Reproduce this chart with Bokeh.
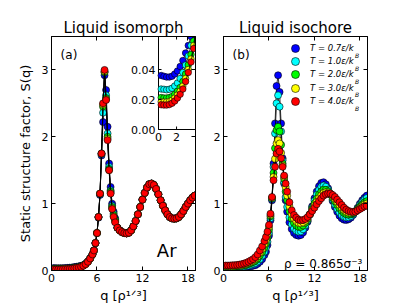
from bokeh.plotting import figure
from bokeh.layouts import row
from bokeh.models import Range1d, LinearAxis, FixedTicker, Label, Legend, LegendItem
from bokeh.embed import file_html
from bokeh.resources import INLINE
from bokeh.core.properties import value

FONT = "DejaVu Sans"

temps = ["0.7", "1.0", "2.0", "3.0", "4.0"]
colors = ["#0000ff", "#00ffff", "#00ff00", "#ffff00", "#ff0000"]

q_low = [0.3, 0.6, 0.9, 1.2, 1.5, 1.8, 2.1, 2.4, 2.7, 3.0, 3.3, 3.6, 3.9, 4.2, 4.5, 4.8, 5.1, 5.4]
q_peak = [5.6, 5.8, 6.0, 6.2, 6.4, 6.6, 6.8, 7.0, 7.2, 7.4, 7.6, 7.8, 8.0, 8.2, 8.4]
q_tail = [8.7, 9.0, 9.3, 9.6, 9.9, 10.2, 10.5, 10.8, 11.1, 11.4, 11.7, 12.0, 12.3, 12.6, 12.9,
          13.2, 13.5, 13.8, 14.1, 14.4, 14.7, 15.0, 15.3, 15.6, 15.9, 16.2, 16.5, 16.8, 17.1,
          17.4, 17.7, 18.0, 18.3, 18.6, 18.9]

# ---- (a) liquid isomorph ----
iso_low_07 = [0.036, 0.0355, 0.035, 0.035, 0.0355, 0.037, 0.039, 0.042, 0.046, 0.051, 0.056, 0.062, 0.07, 0.08, 0.1, 0.135, 0.18, 0.24]
iso_low_10 = [0.027, 0.0268, 0.0265, 0.0268, 0.0275, 0.029, 0.031, 0.034, 0.038, 0.043, 0.049, 0.056, 0.064, 0.077, 0.098, 0.133, 0.18, 0.24]
iso_low_20 = [0.0213, 0.021, 0.021, 0.0213, 0.022, 0.0235, 0.0255, 0.028, 0.032, 0.037, 0.043, 0.05, 0.059, 0.074, 0.096, 0.132, 0.18, 0.24]
iso_low_30 = [0.0185, 0.0183, 0.0183, 0.0186, 0.0195, 0.021, 0.023, 0.0255, 0.029, 0.034, 0.04, 0.047, 0.056, 0.072, 0.095, 0.131, 0.18, 0.24]
iso_low_40 = [0.0165, 0.0163, 0.0163, 0.0166, 0.0175, 0.019, 0.021, 0.0235, 0.027, 0.032, 0.038, 0.045, 0.054, 0.071, 0.095, 0.13, 0.18, 0.24]

iso_peak_07 = [0.3, 0.41, 0.56, 0.79, 1.13, 1.72, 2.22, 2.92, 2.7, 2.15, 1.6, 1.25, 1.0, 0.88, 0.78]
iso_peak_10 = [0.3, 0.41, 0.56, 0.8, 1.14, 1.74, 2.36, 2.96, 2.62, 2.05, 1.55, 1.2, 0.97, 0.85, 0.76]
iso_peak_20 = [0.3, 0.41, 0.56, 0.8, 1.15, 1.75, 2.45, 2.97, 2.58, 2.0, 1.52, 1.18, 0.95, 0.83, 0.75]
iso_peak_30 = [0.3, 0.41, 0.56, 0.8, 1.15, 1.75, 2.48, 2.98, 2.56, 1.97, 1.5, 1.16, 0.93, 0.81, 0.73]
iso_peak_40 = [0.3, 0.41, 0.56, 0.8, 1.15, 1.75, 2.5, 3.0, 2.55, 1.95, 1.5, 1.15, 0.92, 0.8, 0.72]

iso_tail = [0.64, 0.6, 0.575, 0.56, 0.555, 0.565, 0.6, 0.66, 0.74, 0.84, 0.95, 1.06, 1.16, 1.24, 1.29,
            1.3, 1.28, 1.22, 1.14, 1.05, 0.97, 0.9, 0.84, 0.8, 0.78, 0.775, 0.78, 0.8, 0.84,
            0.89, 0.95, 1.0, 1.05, 1.09, 1.12]

# ---- (b) liquid isochore ----
ich_low_07 = [0.036, 0.0355, 0.035, 0.035, 0.0355, 0.037, 0.039, 0.042, 0.046, 0.051, 0.056, 0.062, 0.07, 0.08, 0.1, 0.13, 0.17, 0.23]
ich_low_10 = [0.046, 0.045, 0.045, 0.046, 0.047, 0.049, 0.051, 0.055, 0.06, 0.067, 0.074, 0.084, 0.095, 0.11, 0.135, 0.17, 0.22, 0.28]
ich_low_20 = [0.057, 0.057, 0.057, 0.059, 0.06, 0.062, 0.066, 0.071, 0.078, 0.086, 0.097, 0.11, 0.125, 0.146, 0.177, 0.224, 0.275, 0.345]
ich_low_30 = [0.067, 0.067, 0.068, 0.069, 0.071, 0.074, 0.078, 0.084, 0.093, 0.102, 0.115, 0.132, 0.15, 0.176, 0.212, 0.266, 0.322, 0.398]
ich_low_40 = [0.075, 0.075, 0.076, 0.078, 0.08, 0.083, 0.088, 0.095, 0.104, 0.115, 0.13, 0.15, 0.17, 0.2, 0.24, 0.3, 0.36, 0.44]

ich_peak_07 = [0.28, 0.38, 0.52, 0.75, 1.05, 1.6, 2.2, 2.76, 2.92, 2.67, 2.2, 1.68, 1.3, 1.05, 0.88]
ich_peak_10 = [0.34, 0.43, 0.56, 0.78, 1.07, 1.55, 2.05, 2.5, 2.62, 2.45, 2.08, 1.65, 1.32, 1.1, 0.95]
ich_peak_20 = [0.4, 0.49, 0.61, 0.81, 1.08, 1.46, 1.83, 2.1, 2.15, 2.08, 1.88, 1.6, 1.37, 1.18, 1.05]
ich_peak_30 = [0.45, 0.54, 0.65, 0.83, 1.09, 1.4, 1.67, 1.9, 1.95, 1.9, 1.76, 1.57, 1.4, 1.25, 1.12]
ich_peak_40 = [0.5, 0.58, 0.68, 0.85, 1.1, 1.35, 1.55, 1.75, 1.82, 1.78, 1.68, 1.55, 1.42, 1.3, 1.18]

ich_tail_07 = [0.72, 0.62, 0.56, 0.53, 0.52, 0.53, 0.57, 0.64, 0.73, 0.84, 0.96, 1.08, 1.18, 1.26, 1.31,
               1.32, 1.29, 1.23, 1.14, 1.04, 0.95, 0.88, 0.82, 0.78, 0.76, 0.755, 0.765, 0.79, 0.83,
               0.88, 0.94, 1.0, 1.05, 1.09, 1.12]
ich_tail_10 = [0.795, 0.69, 0.628, 0.595, 0.58, 0.585, 0.616, 0.673, 0.748, 0.84, 0.943, 1.045, 1.133, 1.205, 1.253,
               1.27, 1.253, 1.21, 1.143, 1.063, 0.988, 0.925, 0.87, 0.83, 0.805, 0.794, 0.796, 0.813, 0.841,
               0.88, 0.93, 0.98, 1.023, 1.058, 1.083]
ich_tail_20 = [0.885, 0.774, 0.709, 0.673, 0.652, 0.651, 0.672, 0.712, 0.769, 0.84, 0.922, 1.003, 1.075, 1.139, 1.183,
               1.21, 1.207, 1.186, 1.146, 1.09, 1.033, 0.979, 0.93, 0.89, 0.859, 0.84, 0.834, 0.84, 0.855,
               0.88, 0.918, 0.956, 0.99, 1.018, 1.037]
ich_tail_30 = [0.96, 0.844, 0.776, 0.738, 0.712, 0.706, 0.718, 0.744, 0.786, 0.84, 0.904, 0.968, 1.028, 1.084, 1.126,
               1.16, 1.17, 1.166, 1.148, 1.112, 1.07, 1.024, 0.98, 0.94, 0.904, 0.879, 0.865, 0.862, 0.866,
               0.88, 0.908, 0.936, 0.962, 0.986, 1.0]
ich_tail_40 = [1.02, 0.9, 0.83, 0.79, 0.76, 0.75, 0.755, 0.77, 0.8, 0.84, 0.89, 0.94, 0.99, 1.04, 1.08,
               1.12, 1.14, 1.15, 1.15, 1.13, 1.1, 1.06, 1.02, 0.98, 0.94, 0.91, 0.89, 0.88, 0.875,
               0.88, 0.9, 0.92, 0.94, 0.96, 0.97]

x_ticks = [0, 6, 12, 18]
y_ticks = [0, 1, 2, 3]
inset_x_ticks = [0, 2]
inset_x_labels = ["0", "2"]
inset_y_ticks = [0.0, 0.02, 0.04]
inset_y_labels = ["0.00", "0.02", "0.04"]

iso_low = [iso_low_07, iso_low_10, iso_low_20, iso_low_30, iso_low_40]
iso_peak = [iso_peak_07, iso_peak_10, iso_peak_20, iso_peak_30, iso_peak_40]
ich_low = [ich_low_07, ich_low_10, ich_low_20, ich_low_30, ich_low_40]
ich_peak = [ich_peak_07, ich_peak_10, ich_peak_20, ich_peak_30, ich_peak_40]
ich_tail = [ich_tail_07, ich_tail_10, ich_tail_20, ich_tail_30, ich_tail_40]

q_all = q_low + q_peak + q_tail

# ---------------- layout constants ----------------
H = 305
FRAME_W = 144
FRAME_H = 234
TOP = 36
BOTTOM = H - TOP - FRAME_H
XMAX, YMAX = 19, 3.5
MS = 7
PX_PER_Y = FRAME_H / YMAX


def style_axis(ax, label_size="11px"):
    ax.major_tick_in = 4
    ax.major_tick_out = 0
    ax.minor_tick_in = 0
    ax.minor_tick_out = 0
    ax.axis_line_color = "black"
    ax.major_tick_line_color = "black"
    ax.major_label_text_font = FONT
    ax.major_label_text_font_size = label_size
    ax.major_label_text_color = "black"
    ax.major_label_standoff = 3
    ax.axis_label_text_color = "black"


def make_fig(title, mbl, mbr):
    p = figure(width=mbl + FRAME_W + mbr, height=H,
               x_range=Range1d(0, XMAX), y_range=Range1d(0, YMAX),
               output_backend="svg", toolbar_location=None,
               min_border_left=mbl, min_border_right=mbr,
               min_border_top=TOP, min_border_bottom=BOTTOM)
    p.title.text = title
    p.title.align = "center"
    p.title.text_font = FONT
    p.title.text_font_size = "15px"
    p.title.text_font_style = "normal"
    p.title.text_color = "black"
    p.title.standoff = 0
    p.grid.visible = False
    p.outline_line_color = "black"
    p.outline_line_width = 1
    p.xaxis.ticker = FixedTicker(ticks=x_ticks)
    p.yaxis.ticker = FixedTicker(ticks=y_ticks)
    style_axis(p.xaxis[0])
    style_axis(p.yaxis[0])
    p.xaxis[0].axis_label = "q [ρ¹ᐟ³]"
    p.xaxis[0].axis_label_text_font = FONT
    p.xaxis[0].axis_label_text_font_size = "13px"
    p.xaxis[0].axis_label_text_font_style = "normal"
    p.xaxis[0].axis_label_standoff = 3
    top = LinearAxis(ticker=FixedTicker(ticks=x_ticks))
    right = LinearAxis(ticker=FixedTicker(ticks=y_ticks))
    for ax in (top, right):
        style_axis(ax)
        ax.major_label_text_font_size = "2px"
        ax.major_label_text_color = None
        ax.major_label_standoff = 0
    p.add_layout(top, "above")
    p.add_layout(right, "right")
    return p


# ---------------- panel (a) ----------------
pa = make_fig("Liquid isomorph", 51, 8)
pa.yaxis[0].axis_label = "Static structure factor, S(q)"
pa.yaxis[0].axis_label_text_font = FONT
pa.yaxis[0].axis_label_text_font_size = "13px"
pa.yaxis[0].axis_label_text_font_style = "normal"
pa.yaxis[0].axis_label_standoff = 6

for i in range(5):
    s = iso_low[i] + iso_peak[i] + iso_tail
    pa.line(q_all, s, line_color="black", line_width=0.8)
    pa.scatter(q_all, s, marker="circle", size=MS, fill_color=colors[i], line_color="black", line_width=0.6)

# inset mapped into the top-right corner of the frame
ins_x1 = 4.1
ins_y1 = 0.062
fx = 107 / FRAME_W
fy = 141 / FRAME_H
pa.extra_x_ranges = {"ix": Range1d(ins_x1 - ins_x1 / (1 - fx), ins_x1)}
pa.extra_y_ranges = {"iy": Range1d(ins_y1 - ins_y1 / (1 - fy), ins_y1)}
ik = dict(x_range_name="ix", y_range_name="iy")
pa.quad(left=[0], right=[ins_x1], bottom=[0], top=[ins_y1], fill_color="white",
        line_color="black", line_width=1, **ik)
for i in range(5):
    pa.line(q_low, iso_low[i], line_color="black", line_width=0.8, **ik)
    pa.scatter(q_low, iso_low[i], marker="circle", size=6.5, fill_color=colors[i],
               line_color="black", line_width=0.6, **ik)
tx = 3 * (ins_x1 / (1 - fx)) / FRAME_W
ty = 3 * (ins_y1 / (1 - fy)) / FRAME_H
pa.segment(x0=[0] * 3, x1=[tx] * 3, y0=inset_y_ticks, y1=inset_y_ticks, line_color="black", **ik)
pa.segment(x0=[ins_x1 - tx] * 3, x1=[ins_x1] * 3, y0=inset_y_ticks, y1=inset_y_ticks, line_color="black", **ik)
pa.segment(x0=inset_x_ticks, x1=inset_x_ticks, y0=[0] * 2, y1=[ty] * 2, line_color="black", **ik)
pa.segment(x0=inset_x_ticks, x1=inset_x_ticks, y0=[ins_y1 - ty] * 2, y1=[ins_y1] * 2, line_color="black", **ik)
pa.text(x=[0] * 3, y=inset_y_ticks, text=inset_y_labels, x_offset=-3, text_align="right",
        text_baseline="middle", text_font=value(FONT), text_font_size="11px", text_color="black", **ik)
pa.text(x=inset_x_ticks, y=[0] * 2, text=inset_x_labels, y_offset=3, text_align="center",
        text_baseline="top", text_font=value(FONT), text_font_size="11px", text_color="black", **ik)

pa.add_layout(Label(x=1.2, y=3.23, text="(a)", text_font=FONT, text_font_size="12px",
                    text_baseline="alphabetic", text_color="black"))
pa.add_layout(Label(x=13.9, y=0.30, text="Ar", text_font=FONT, text_font_size="18px",
                    text_baseline="alphabetic", text_color="black"))

# ---------------- panel (b) ----------------
pb = make_fig("Liquid isochore", 20, 8)
for i in range(5):
    s = ich_low[i] + ich_peak[i] + ich_tail[i]
    pb.line(q_all, s, line_color="black", line_width=0.8)
    r = pb.scatter(q_all, s, marker="circle", size=MS, fill_color=colors[i], line_color="black", line_width=0.6)
    row_center = 12 + 13.25 * i  # px below frame top
    leg = Legend(items=[LegendItem(label="T = " + temps[i] + "ε/k", renderers=[r])],
                 location=(62, int(round(FRAME_H - row_center - 10))), padding=0, margin=0, spacing=0,
                 glyph_width=20, glyph_height=20, label_height=20, label_standoff=5,
                 label_text_font=FONT, label_text_font_size="8.5px", label_text_font_style="italic",
                 label_text_color="black", border_line_alpha=0, background_fill_alpha=0)
    pb.add_layout(leg)
    pb.add_layout(Label(x=17.35, y=YMAX - (row_center + 6.5) / PX_PER_Y, text="B",
                        text_font=FONT, text_font_size="6px", text_font_style="italic",
                        text_baseline="alphabetic", text_color="black"))

pb.add_layout(Label(x=1.2, y=3.23, text="(b)", text_font=FONT, text_font_size="12px",
                    text_baseline="alphabetic", text_color="black"))
pb.add_layout(Label(x=7.97, y=0.09, text="ρ = 0.865σ⁻³", text_font=FONT, text_font_size="12px",
                    text_baseline="alphabetic", text_color="black"))

layout = row(pa, pb)
open("out.html", "w").write(file_html(layout, INLINE))
